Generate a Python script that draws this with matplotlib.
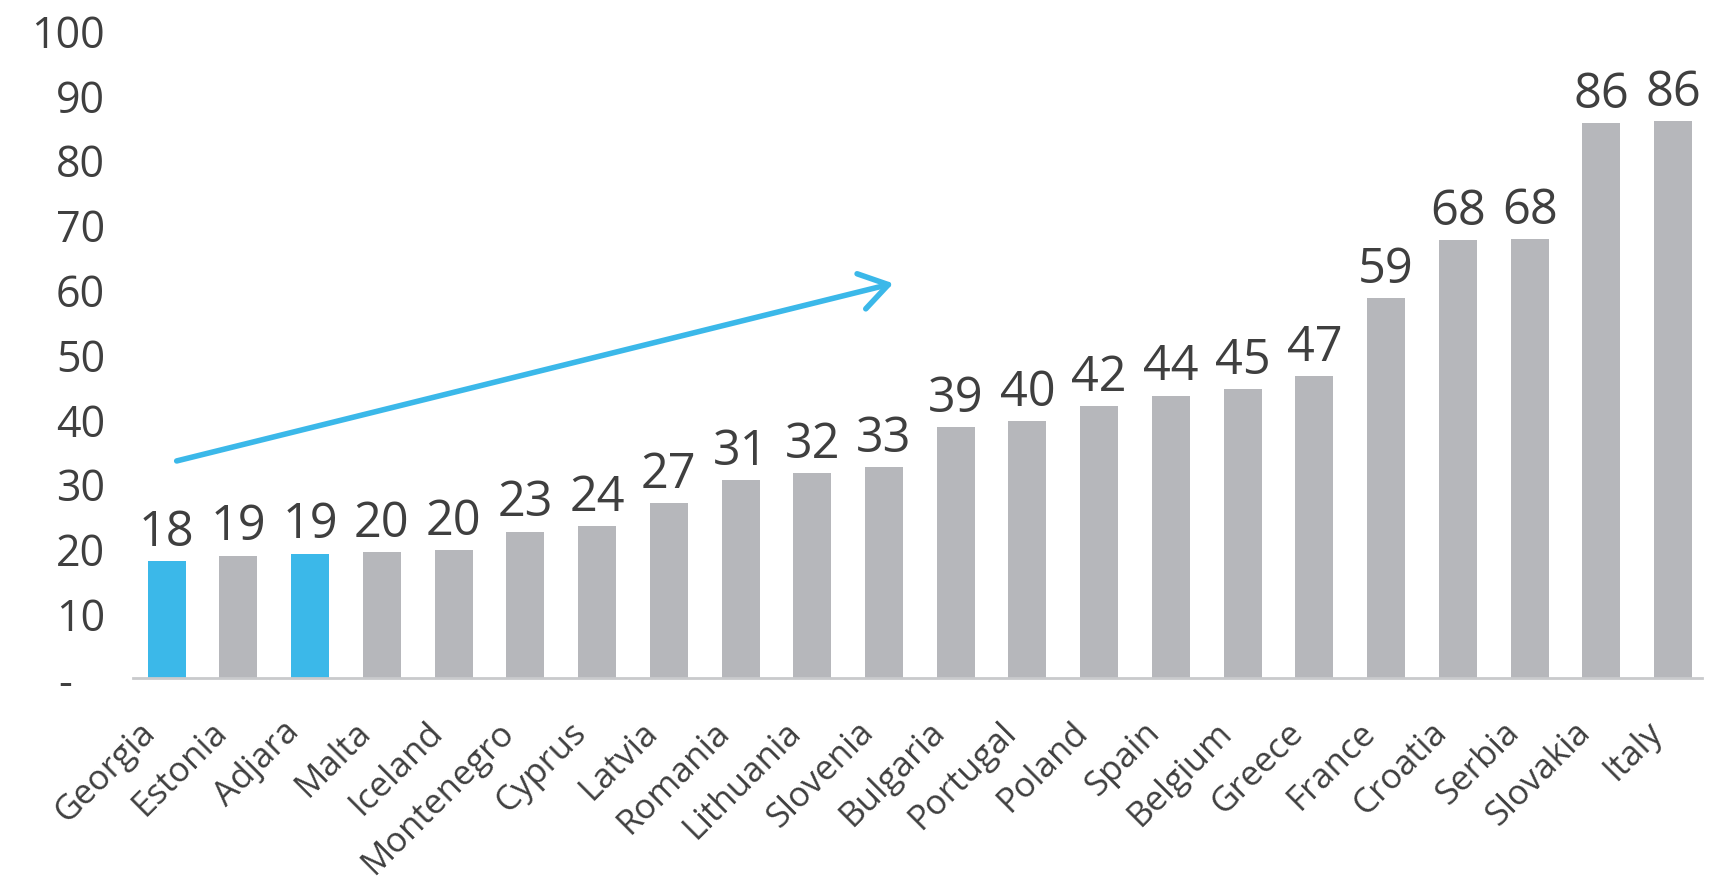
import matplotlib
matplotlib.use("Agg")
import matplotlib.pyplot as plt
from matplotlib.transforms import ScaledTranslation

# data
countries = ["Georgia", "Estonia", "Adjara", "Malta", "Iceland", "Montenegro",
             "Cyprus", "Latvia", "Romania", "Lithuania", "Slovenia", "Bulgaria",
             "Portugal", "Poland", "Spain", "Belgium", "Greece", "France",
             "Croatia", "Serbia", "Slovakia", "Italy"]
values = [18.0, 18.9, 19.2, 19.4, 19.7, 22.6, 23.5, 27.0, 30.6, 31.6, 32.5, 38.7,
          39.6, 42.0, 43.6, 44.6, 46.6, 58.6, 67.6, 67.8, 85.6, 85.9]
labels = ["18", "19", "19", "20", "20", "23", "24", "27", "31", "32", "33", "39",
          "40", "42", "44", "45", "47", "59", "68", "68", "86", "86"]
highlight = ["Georgia", "Adjara"]
yticks = [0, 10, 20, 30, 40, 50, 60, 70, 80, 90, 100]
ytick_labels = ["-", "10", "20", "30", "40", "50", "60", "70", "80", "90", "100"]

BLUE = "#3bb8e9"
GREY = "#b6b7bb"
TEXT = "#3f3f3f"

plt.rcParams['font.family'] = ['Open Sans', 'DejaVu Sans']

fig = plt.figure(figsize=(17.33, 8.79), dpi=100)
ax = fig.add_axes((0.0767, 0.2275, 0.9053, 0.7372))

colors = [BLUE if c in highlight else GREY for c in countries]
x = list(range(len(countries)))
bars = ax.bar(x, values, width=0.53, color=colors, zorder=2)

for b, lab in zip(bars, labels):
    ax.annotate(lab, (b.get_x() + b.get_width() / 2, b.get_height()),
                xytext=(0, 3), textcoords="offset points",
                ha="center", va="bottom", fontsize=35, color=TEXT,
                clip_on=False)

# trend arrow
ax.annotate("", xy=(10.13, 60.9), xytext=(0.14, 33.5),
            arrowprops=dict(arrowstyle="->,head_length=1.0,head_width=0.65",
                            mutation_scale=20, color=BLUE, lw=4,
                            shrinkA=0, shrinkB=0))

ax.set_xlim(-0.47, 21.4)
ax.set_ylim(0, 100)
ax.set_yticks(yticks)
ax.set_yticklabels(ytick_labels, fontsize=31, color=TEXT)
ax.set_xticks(x)
ax.set_xticklabels(countries, rotation=45, ha="right", va="top",
                   rotation_mode="anchor", fontsize=25, color=TEXT)
ax.tick_params(axis="both", length=0)
ax.tick_params(axis="y", pad=20)
ax.tick_params(axis="x", pad=26)

# nudge the rotated names a bit to the left, as in the source
shift = ScaledTranslation(-0.28, 0, fig.dpi_scale_trans)
for t in ax.get_xticklabels():
    t.set_transform(t.get_transform() + shift)

# the zero label "-" sits further left
zero = ax.get_yticklabels()[0]
zero.set_transform(zero.get_transform() + ScaledTranslation(-0.33, 0, fig.dpi_scale_trans))

for s in ["top", "right", "left"]:
    ax.spines[s].set_visible(False)
ax.spines["bottom"].set_color("#c9cacc")
ax.spines["bottom"].set_linewidth(2)

fig.savefig("out.png", dpi=100)
